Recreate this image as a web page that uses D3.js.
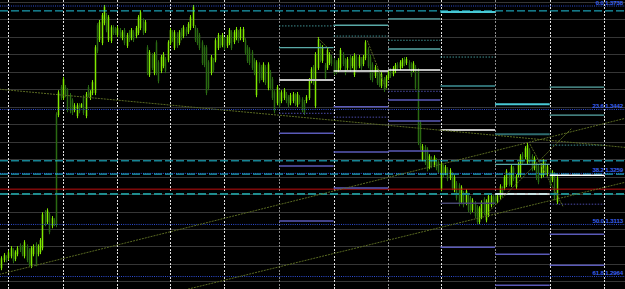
<!DOCTYPE html>
<html><head><meta charset="utf-8">
<script src="https://cdn.jsdelivr.net/npm/d3@7"></script>
<style>html,body{margin:0;padding:0;background:#000;overflow:hidden}svg{display:block}</style>
</head><body><svg id="c" width="625" height="289"></svg>
<script>
// ---- data (H1 bars) ----
const highs=[1.3022,1.3031,1.3025,1.3039,1.3051,1.3045,1.3039,1.3051,1.3059,1.3054,
1.3068,1.3056,1.3045,1.3051,1.3056,1.3062,1.3056,1.3074,1.3148,1.3154,
1.3159,1.3148,1.3137,1.3131,1.3434,1.3497,1.3512,1.3535,1.3512,1.3503,
1.3489,1.3474,1.3460,1.3460,1.3460,1.3460,1.3483,1.3492,1.3512,1.3497,
1.3526,1.3626,1.3689,1.3698,1.3718,1.3741,1.3718,1.3712,1.3683,1.3683,
1.3678,1.3681,1.3675,1.3669,1.3675,1.3661,1.3669,1.3675,1.3669,1.3681,
1.3712,1.3726,1.3703,1.3698,1.3626,1.3612,1.3603,1.3606,1.3640,1.3583,
1.3598,1.3606,1.3592,1.3640,1.3675,1.3669,1.3669,1.3663,1.3669,1.3675,
1.3683,1.3678,1.3692,1.3712,1.3741,1.3683,1.3675,1.3661,1.3640,1.3626,
1.3626,1.3583,1.3598,1.3589,1.3646,1.3661,1.3655,1.3661,1.3649,1.3655,
1.3675,1.3669,1.3669,1.3678,1.3669,1.3678,1.3678,1.3646,1.3626,1.3620,
1.3612,1.3589,1.3583,1.3577,1.3569,1.3577,1.3569,1.3577,1.3555,1.3535,
1.3497,1.3512,1.3497,1.3497,1.3503,1.3492,1.3483,1.3489,1.3492,1.3489,
1.3492,1.3483,1.3477,1.3469,1.3483,1.3532,1.3563,1.3569,1.3606,1.3649,
1.3632,1.3626,1.3575,1.3618,1.3606,1.3598,1.3589,1.3583,1.3589,1.3618,
1.3606,1.3589,1.3592,1.3598,1.3595,1.3603,1.3598,1.3598,1.3592,1.3598,
1.3640,1.3620,1.3598,1.3577,1.3569,1.3560,1.3555,1.3549,1.3535,1.3540,
1.3555,1.3560,1.3566,1.3575,1.3577,1.3583,1.3589,1.3592,1.3592,1.3583,
1.3577,1.3580,1.3569,1.3560,1.3411,1.3343,1.3340,1.3334,1.3314,1.3308,
1.3311,1.3303,1.3297,1.3291,1.3285,1.3283,1.3277,1.3274,1.3263,1.3254,
1.3237,1.3231,1.3225,1.3208,1.3214,1.3200,1.3194,1.3188,1.3180,1.3168,
1.3165,1.3182,1.3191,1.3185,1.3200,1.3200,1.3197,1.3200,1.3202,1.3228,
1.3222,1.3254,1.3271,1.3263,1.3285,1.3280,1.3257,1.3291,1.3314,1.3320,
1.3337,1.3346,1.3331,1.3314,1.3308,1.3291,1.3285,1.3288,1.3300,1.3291,
1.3285,1.3271,1.3268,1.3263,1.3251];
const lows=[1.2982,1.3005,1.3005,1.3011,1.3016,1.3002,1.3008,1.3022,1.3034,1.3022,
1.3016,1.3005,1.2993,1.2988,1.3022,1.2993,1.3022,1.3028,1.3039,1.3108,
1.3114,1.3085,1.3102,1.3108,1.3105,1.3420,1.3469,1.3469,1.3477,1.3434,
1.3431,1.3426,1.3434,1.3417,1.3431,1.3446,1.3426,1.3417,1.3477,1.3469,
1.3483,1.3483,1.3603,1.3635,1.3626,1.3683,1.3663,1.3635,1.3632,1.3655,
1.3655,1.3649,1.3646,1.3640,1.3626,1.3618,1.3635,1.3640,1.3635,1.3646,
1.3655,1.3669,1.3655,1.3661,1.3540,1.3535,1.3555,1.3540,1.3540,1.3517,
1.3546,1.3560,1.3546,1.3577,1.3626,1.3635,1.3612,1.3618,1.3626,1.3640,
1.3646,1.3652,1.3658,1.3669,1.3675,1.3635,1.3626,1.3612,1.3569,1.3563,
1.3483,1.3497,1.3540,1.3549,1.3577,1.3612,1.3618,1.3620,1.3612,1.3618,
1.3626,1.3612,1.3629,1.3640,1.3632,1.3640,1.3635,1.3598,1.3575,1.3569,
1.3555,1.3540,1.3477,1.3517,1.3526,1.3520,1.3512,1.3497,1.3497,1.3469,
1.3431,1.3454,1.3446,1.3460,1.3469,1.3460,1.3449,1.3454,1.3460,1.3452,
1.3449,1.3457,1.3434,1.3426,1.3460,1.3469,1.3517,1.3512,1.3446,1.3555,
1.3577,1.3575,1.3526,1.3555,1.3569,1.3566,1.3540,1.3543,1.3549,1.3555,
1.3566,1.3540,1.3555,1.3549,1.3560,1.3535,1.3555,1.3560,1.3555,1.3566,
1.3583,1.3560,1.3526,1.3520,1.3532,1.3512,1.3506,1.3503,1.3492,1.3503,
1.3526,1.3532,1.3537,1.3546,1.3555,1.3555,1.3560,1.3566,1.3569,1.3555,
1.3535,1.3549,1.3497,1.3340,1.3326,1.3294,1.3283,1.3265,1.3271,1.3274,
1.3277,1.3268,1.3257,1.3208,1.3248,1.3254,1.3237,1.3240,1.3211,1.3205,
1.3182,1.3165,1.3171,1.3162,1.3168,1.3148,1.3142,1.3148,1.3131,1.3114,
1.3114,1.3128,1.3139,1.3119,1.3134,1.3162,1.3168,1.3171,1.3174,1.3185,
1.3191,1.3211,1.3220,1.3222,1.3220,1.3237,1.3214,1.3248,1.3248,1.3283,
1.3300,1.3285,1.3288,1.3265,1.3268,1.3240,1.3228,1.3245,1.3248,1.3257,
1.3251,1.3220,1.3234,1.3182,1.3171];
const opens=[1.2988,1.3011,1.3019,1.3017,1.3022,1.3039,1.3014,1.3028,1.3053,1.3048,
1.3022,1.3050,1.3039,1.2994,1.3028,1.3056,1.3028,1.3034,1.3045,1.3148,
1.3120,1.3142,1.3108,1.3125,1.3428,1.3426,1.3506,1.3475,1.3506,1.3497,
1.3483,1.3468,1.3440,1.3423,1.3454,1.3449,1.3477,1.3423,1.3506,1.3475,
1.3489,1.3489,1.3683,1.3641,1.3632,1.3689,1.3712,1.3641,1.3638,1.3677,
1.3672,1.3655,1.3669,1.3646,1.3669,1.3624,1.3663,1.3646,1.3663,1.3652,
1.3661,1.3675,1.3697,1.3667,1.3620,1.3541,1.3597,1.3546,1.3634,1.3577,
1.3552,1.3566,1.3586,1.3583,1.3632,1.3663,1.3618,1.3657,1.3632,1.3669,
1.3652,1.3672,1.3664,1.3675,1.3681,1.3677,1.3669,1.3655,1.3634,1.3620,
1.3620,1.3577,1.3546,1.3583,1.3583,1.3618,1.3649,1.3626,1.3643,1.3624,
1.3632,1.3663,1.3635,1.3646,1.3663,1.3646,1.3641,1.3640,1.3620,1.3614,
1.3606,1.3583,1.3483,1.3571,1.3563,1.3526,1.3563,1.3503,1.3549,1.3529,
1.3491,1.3460,1.3491,1.3466,1.3475,1.3486,1.3477,1.3460,1.3466,1.3483,
1.3455,1.3477,1.3471,1.3463,1.3466,1.3475,1.3523,1.3563,1.3452,1.3561,
1.3626,1.3581,1.3569,1.3561,1.3575,1.3592,1.3583,1.3577,1.3555,1.3561,
1.3600,1.3583,1.3561,1.3592,1.3566,1.3541,1.3592,1.3566,1.3586,1.3572,
1.3589,1.3614,1.3592,1.3571,1.3538,1.3554,1.3549,1.3509,1.3529,1.3509,
1.3532,1.3554,1.3543,1.3552,1.3571,1.3561,1.3566,1.3586,1.3575,1.3577,
1.3571,1.3555,1.3563,1.3554,1.3405,1.3300,1.3334,1.3328,1.3277,1.3302,
1.3283,1.3297,1.3291,1.3214,1.3279,1.3260,1.3271,1.3246,1.3257,1.3211,
1.3231,1.3225,1.3177,1.3202,1.3174,1.3194,1.3188,1.3154,1.3174,1.3162,
1.3120,1.3134,1.3185,1.3125,1.3140,1.3168,1.3191,1.3194,1.3180,1.3191,
1.3216,1.3217,1.3226,1.3257,1.3226,1.3274,1.3220,1.3254,1.3254,1.3314,
1.3306,1.3291,1.3325,1.3308,1.3274,1.3285,1.3279,1.3251,1.3254,1.3285,
1.3257,1.3265,1.3240,1.3257,1.3177];
const closes=[1.3016,1.3025,1.3011,1.3033,1.3045,1.3008,1.3033,1.3045,1.3040,1.3028,
1.3062,1.3011,1.2999,1.3045,1.3050,1.2999,1.3050,1.3068,1.3142,1.3114,
1.3153,1.3091,1.3131,1.3114,1.3111,1.3491,1.3475,1.3529,1.3483,1.3440,
1.3437,1.3432,1.3454,1.3454,1.3437,1.3457,1.3432,1.3486,1.3483,1.3491,
1.3520,1.3620,1.3609,1.3692,1.3712,1.3735,1.3669,1.3706,1.3677,1.3661,
1.3661,1.3675,1.3652,1.3663,1.3632,1.3655,1.3641,1.3669,1.3641,1.3675,
1.3706,1.3720,1.3661,1.3692,1.3546,1.3606,1.3561,1.3600,1.3546,1.3523,
1.3592,1.3600,1.3552,1.3634,1.3669,1.3641,1.3663,1.3624,1.3663,1.3646,
1.3677,1.3658,1.3686,1.3706,1.3735,1.3641,1.3632,1.3618,1.3575,1.3569,
1.3489,1.3503,1.3592,1.3555,1.3640,1.3655,1.3624,1.3655,1.3618,1.3649,
1.3669,1.3618,1.3663,1.3672,1.3638,1.3672,1.3672,1.3604,1.3581,1.3575,
1.3561,1.3546,1.3577,1.3523,1.3532,1.3571,1.3518,1.3571,1.3503,1.3475,
1.3437,1.3506,1.3452,1.3491,1.3497,1.3466,1.3455,1.3483,1.3486,1.3458,
1.3486,1.3463,1.3440,1.3432,1.3477,1.3526,1.3557,1.3518,1.3600,1.3643,
1.3583,1.3620,1.3532,1.3612,1.3600,1.3572,1.3546,1.3549,1.3583,1.3612,
1.3572,1.3546,1.3586,1.3555,1.3589,1.3597,1.3561,1.3592,1.3561,1.3592,
1.3634,1.3566,1.3532,1.3526,1.3563,1.3518,1.3512,1.3543,1.3498,1.3534,
1.3549,1.3538,1.3560,1.3569,1.3561,1.3577,1.3583,1.3572,1.3586,1.3561,
1.3541,1.3574,1.3503,1.3346,1.3332,1.3337,1.3289,1.3271,1.3308,1.3280,
1.3305,1.3274,1.3263,1.3285,1.3254,1.3277,1.3243,1.3268,1.3217,1.3248,
1.3188,1.3171,1.3219,1.3168,1.3208,1.3154,1.3148,1.3182,1.3137,1.3120,
1.3159,1.3176,1.3145,1.3179,1.3194,1.3194,1.3174,1.3177,1.3196,1.3222,
1.3197,1.3248,1.3265,1.3228,1.3279,1.3243,1.3251,1.3285,1.3308,1.3289,
1.3331,1.3340,1.3294,1.3271,1.3302,1.3246,1.3234,1.3282,1.3294,1.3263,
1.3279,1.3226,1.3262,1.3188,1.3245];

const daySeparators=[3,27,51,74,98,122,146,170,193,217,241,265];
const dimSeparators=[122,170,217];
const gridPrices=[1.3750,1.3700,1.3650,1.3600,1.3550,1.3500,1.3450,1.3400,1.3350,1.3300,1.3250,1.3200,1.3150,1.3100,1.3050,1.3000,1.2950];
const fibLevels=["0.0","23.6","38.2","50.0","61.8"];
const fibPrices=[1.3738,1.3442,1.3259,1.3113,1.2964];
const cyanLevels=[1.3724,1.3295,1.3257];
const redLevels=[1.3214];
const tealLevels=[1.3200];
const pivotDayStarts=[122,146,170,193,217,241];
const pivotLevels=[
 [[1.3681,"tealDot"],[1.3619,"teal"],[1.3526,"gray"],[1.3431,"blueDot"],[1.3374,"blue"],[1.3280,"blue"],[1.3123,"blue"]],
 [[1.3683,"teal"],[1.3652,"tealDot"],[1.3552,"white"],[1.3450,"blue"],[1.3420,"blueDot"],[1.3320,"blue"],[1.3217,"blue"]],
 [[1.3701,"teal"],[1.3640,"tealDot"],[1.3615,"teal"],[1.3555,"white"],[1.3494,"blueDot"],[1.3469,"blue"],[1.3409,"blue"],[1.3323,"blue"]],
 [[1.3721,"cyan"],[1.3592,"tealDot"],[1.3509,"darkTeal"],[1.3383,"gray"],[1.3174,"slate"],[1.3048,"blue"]],
 [[1.3457,"cyan"],[1.3371,"darkTeal"],[1.3285,"teal"],[1.3200,"white"],[1.3028,"blue"],[1.2939,"blue"]],
 [[1.3506,"teal"],[1.3426,"teal"],[1.3340,"tealDot"],[1.3254,"white"],[1.3171,"blueDot"],[1.3085,"blue"],[1.2996,"blue"]]
];
const trendLines=[
 [-1,1.3500,275,1.3333],
 [-1,1.2970,275,1.3418],
 [82,1.2928,275,1.3235],
 [212.6,1.3139,250.8,1.3389],
 [232.3,1.3343,246.8,1.3165],
 [138.7,1.3649,145.7,1.3603],
 [160.8,1.3639,169.3,1.3497]
];

// ---- drawing ----
const W=625,H=289;
const svg=d3.select("#c");
svg.append("rect").attr("width",W).attr("height",H).attr("fill","#000");
const x=d3.scaleLinear().domain([0,274]).range([1.48,624.78]);
const y=d3.scaleLinear().domain([1.29283,1.37552]).range([H,0]);
const px=i=>Math.round(x(i))+0.5;

const gy=svg.append("g").call(d3.axisLeft(y).tickValues(gridPrices).tickSize(-W).tickFormat(""));
gy.select(".domain").remove();
gy.selectAll("line").attr("stroke","#363636").attr("shape-rendering","crispEdges");

const gx=svg.append("g").attr("transform",`translate(0,${H})`)
 .call(d3.axisBottom(x).tickValues(daySeparators).tickSize(-H).tickFormat(""));
gx.select(".domain").remove();
gx.selectAll(".tick line")
 .attr("stroke",d=>dimSeparators.includes(d)?"#8c8c8c":"#e0e0e0")
 .attr("stroke-dasharray","2,1.5").attr("shape-rendering","crispEdges");

const idx=d3.range(highs.length);
const up="#80e800",dn="#2a6a12";
const cg=svg.append("g");
cg.selectAll("line").data(idx).join("line")
 .attr("x1",px).attr("x2",px)
 .attr("y1",i=>y(highs[i])).attr("y2",i=>y(lows[i]))
 .attr("stroke",i=>closes[i]>=opens[i]?up:dn).attr("stroke-width",1);
cg.selectAll("rect").data(idx).join("rect")
 .attr("x",i=>px(i)-0.75).attr("width",1.5)
 .attr("y",i=>Math.min(y(opens[i]),y(closes[i])))
 .attr("height",i=>Math.max(1,Math.abs(y(opens[i])-y(closes[i]))))
 .attr("fill",i=>closes[i]>=opens[i]?up:dn);

const lg=svg.append("g");
function hline(p,stroke,width,dash){
 lg.append("line").attr("x1",0).attr("x2",W).attr("y1",y(p)).attr("y2",y(p))
  .attr("stroke",stroke).attr("stroke-width",width).attr("stroke-dasharray",dash||null);
}
fibPrices.forEach(p=>hline(p,"#2f4fd8",1,"1,1.2"));
cyanLevels.forEach(p=>hline(p,"#22c4dc",1,"8,3"));
redLevels.forEach(p=>hline(p,"#c01010",1,null));
tealLevels.forEach(p=>hline(p,"#1f8c8e",2,"8,3"));

const kindStyle={
 teal:["#5aaaa8",1.3,null], tealDot:["#3f8f90",1,"1.5,1.5"], cyan:["#48c8d4",2,null],
 darkTeal:["#2e6c70",2,null], gray:["#c4c4c4",2,null], white:["#ffffff",1.5,null],
 blue:["#5a5ab8",1.5,null], blueDot:["#4a4aa8",1,"1.5,1.5"], slate:["#45456e",1.5,null]
};
const sg=svg.append("g");
pivotDayStarts.forEach((s,k)=>{
 const e=daySeparators[daySeparators.indexOf(s)+1];
 pivotLevels[k].forEach(([p,kind])=>{
  const st=kindStyle[kind];
  sg.append("line").attr("x1",x(s)).attr("x2",x(e)).attr("y1",y(p)).attr("y2",y(p))
   .attr("stroke",st[0]).attr("stroke-width",st[1]).attr("stroke-dasharray",st[2]);
 });
});

svg.append("g").selectAll("line").data(trendLines).join("line")
 .attr("x1",d=>x(d[0])).attr("y1",d=>y(d[1])).attr("x2",d=>x(d[2])).attr("y2",d=>y(d[3]))
 .attr("stroke","#5a6a22").attr("stroke-width",1).attr("stroke-dasharray","2,1");

svg.append("g").selectAll("text").data(fibLevels).join("text")
 .attr("x",W-2).attr("y",(d,i)=>y(fibPrices[i])-1.3)
 .attr("text-anchor","end").attr("fill","#3a60f0")
 .attr("font-family","'Liberation Sans',Arial,sans-serif").attr("font-size",6.2)
 .attr("font-weight","bold").attr("letter-spacing",-0.2)
 .text((d,i)=>d+" "+fibPrices[i].toFixed(4));
</script></body></html>
